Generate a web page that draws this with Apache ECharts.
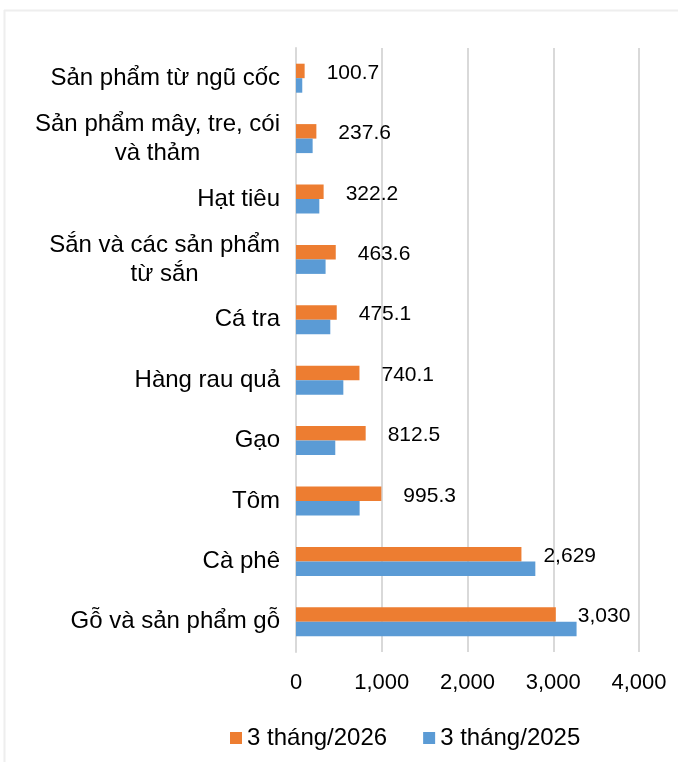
<!DOCTYPE html>
<html>
<head>
<meta charset="utf-8">
<script src="https://cdn.jsdelivr.net/npm/echarts@6/dist/echarts.min.js"></script>
<style>
  html, body { margin: 0; padding: 0; background: #fff; }
  #chart { width: 678px; height: 762px; }
</style>
</head>
<body>
<div id="chart"></div>
<script>
// categories, top to bottom
const categories = [
  'Sản phẩm từ ngũ cốc',
  'Sản phẩm mây, tre, cói\nvà thảm',
  'Hạt tiêu',
  'Sắn và các sản phẩm\ntừ sắn',
  'Cá tra',
  'Hàng rau quả',
  'Gạo',
  'Tôm',
  'Cà phê',
  'Gỗ và sản phẩm gỗ',
];
const seriesNames = ['3 tháng/2026', '3 tháng/2025'];
const values2026 = [100.7, 237.6, 322.2, 463.6, 475.1, 740.1, 812.5, 995.3, 2629, 3030];
// no labels in the source
const values2025 = [73, 194, 272, 345, 400, 552, 458, 742, 2791, 3272];
const xTicks = [0, 1000, 2000, 3000, 4000];

const FONT = 'Liberation Sans, Arial, sans-serif';
const ORANGE = '#ED7D31';
const BLUE = '#5B9BD5';

const fmtNum = (v) => v >= 1000
  ? Math.round(v).toLocaleString('en-US')
  : v.toFixed(1);

const chart = echarts.init(document.getElementById('chart'));
chart.setOption({
  animation: false,
  backgroundColor: '#fff',
  textStyle: { fontFamily: FONT },
  graphic: [
    { type: 'line', shape: { x1: 4, y1: 10.5, x2: 678, y2: 10.5 }, style: { stroke: '#eeeeee', lineWidth: 2 } },
    { type: 'line', shape: { x1: 4.5, y1: 10, x2: 4.5, y2: 762 }, style: { stroke: '#eeeeee', lineWidth: 2 } },
  ],
  legend: {
    data: seriesNames,
    left: 225,
    top: 721,
    icon: 'rect',
    itemWidth: 12,
    itemHeight: 12,
    itemGap: 36,
    textStyle: { fontSize: 24, color: '#000', fontFamily: FONT },
  },
  grid: {
    left: 296,
    right: 39,
    top: 48,
    bottom: 110,
    containLabel: false,
  },
  xAxis: {
    type: 'value',
    min: xTicks[0],
    max: xTicks[xTicks.length - 1],
    interval: 1000,
    axisLine: { show: false },
    axisTick: { show: false },
    splitLine: { lineStyle: { color: '#d9d9d9', width: 2 } },
    axisLabel: {
      margin: 20,
      fontSize: 22,
      color: '#000',
      formatter: (v) => v.toLocaleString('en-US'),
    },
  },
  yAxis: {
    type: 'category',
    inverse: true,
    data: categories,
    axisLine: { show: true, lineStyle: { color: '#d9d9d9', width: 2 } },
    axisTick: { show: false },
    axisLabel: {
      margin: 16,
      fontSize: 24,
      color: '#000',
      lineHeight: 29,
      formatter: (v) => v.split('\n').map((s) => '{c|' + s + '}').join('\n'),
      rich: {
        c: { align: 'center', fontSize: 24, lineHeight: 29, color: '#000', fontFamily: FONT },
      },
    },
  },
  series: [
    {
      name: seriesNames[0],
      type: 'bar',
      data: values2026,
      barWidth: 14.5,
      barGap: '0%',
      itemStyle: { color: ORANGE },
      label: {
        show: true,
        position: 'right',
        distance: 22,
        offset: [0, 2],
        fontSize: 21,
        color: '#000',
        formatter: (p) => fmtNum(p.value),
      },
    },
    {
      name: seriesNames[1],
      type: 'bar',
      data: values2025,
      barWidth: 14.5,
      barGap: '0%',
      itemStyle: { color: BLUE },
    },
  ],
});
</script>
</body>
</html>
